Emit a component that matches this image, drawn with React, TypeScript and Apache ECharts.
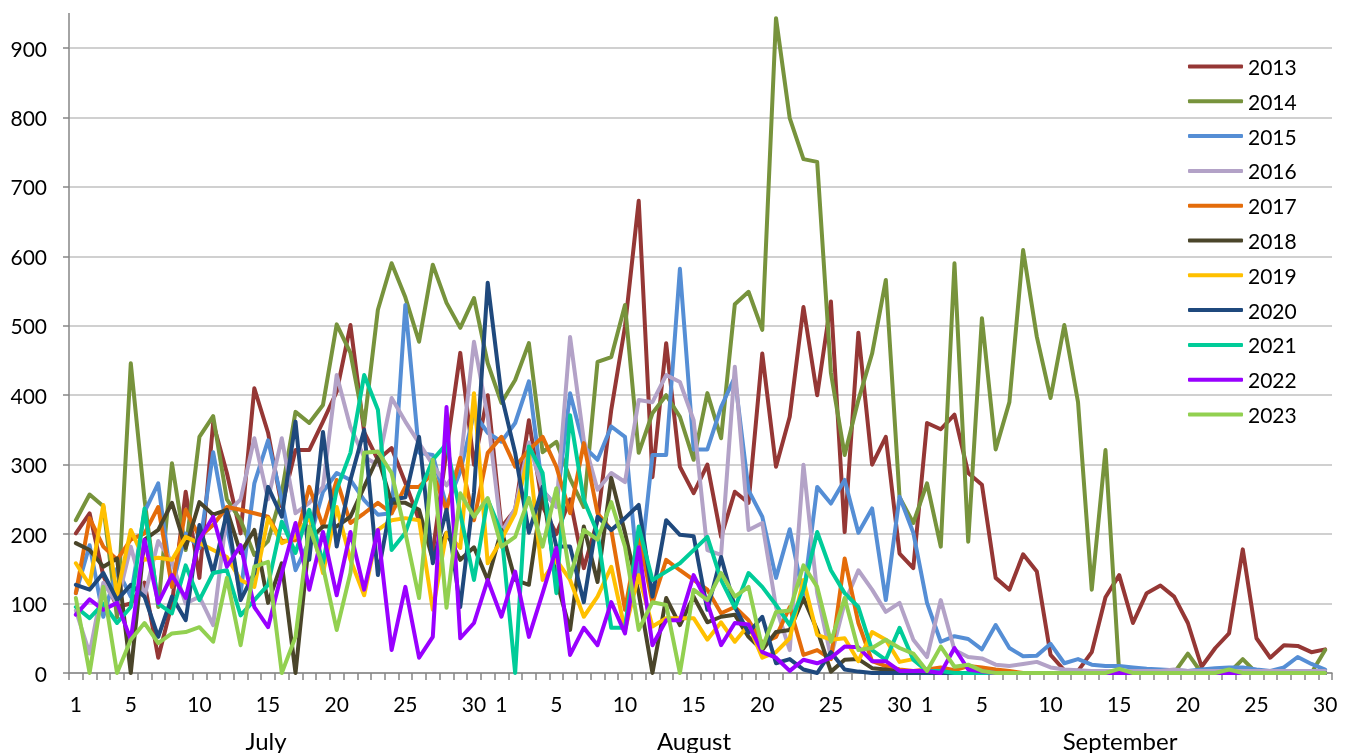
import React, { useEffect, useRef } from 'react';
import * as echarts from 'echarts';

const months = ['July', 'August', 'September'];
const daysInMonth = [31, 31, 30];
const shownDays = [1, 5, 10, 15, 20, 25, 30];
const yTicks = [0, 100, 200, 300, 400, 500, 600, 700, 800, 900];

const years = ['2013', '2014', '2015', '2016', '2017', '2018', '2019', '2020', '2021', '2022', '2023'];
const colors = ['#953735', '#77933C', '#558ED5', '#B3A2C7', '#E46C0A', '#4A452A', '#FFC000', '#1F497D', '#00CC99', '#9900FF', '#92D050'];

const s2013 = [
  201, 230, 140, 95, 100, 130, 22, 100, 261, 137,
  360, 288, 201, 410, 346, 240, 321, 321, 362, 405,
  501, 347, 307, 324, 274, 220, 175, 320, 461, 300,
  400, 210, 235, 364, 240, 200, 250, 151, 220, 379,
  499, 680, 282, 475, 297, 259, 300, 196, 261, 245,
  460, 297, 369, 527, 400, 535, 203, 490, 300, 340,
  172, 151, 360, 351, 372, 288, 271, 137, 120, 171,
  146, 26, 4, 3, 30, 109, 141, 72, 115, 126,
  110, 72, 9, 36, 57, 178, 50, 22, 40, 39,
  30, 34,
];
const s2014 = [
  220, 257, 240, 80, 446, 250, 95, 302, 177, 340,
  370, 250, 220, 170, 190, 260, 376, 360, 386, 502,
  461, 357, 523, 590, 541, 477, 588, 533, 497, 540,
  446, 389, 422, 475, 318, 333, 280, 239, 448, 455,
  530, 317, 374, 400, 369, 307, 403, 338, 531, 549,
  494, 943, 799, 740, 736, 432, 314, 393, 460, 566,
  253, 216, 273, 182, 590, 189, 511, 322, 390, 609,
  484, 396, 501, 390, 120, 321, 0, 0, 0, 0,
  0, 28, 0, 0, 0, 20, 0, 0, 0, 0,
  0, 33,
];
const s2015 = [
  115, 184, 81, 150, 110, 232, 273, 124, 201, 180,
  318, 210, 115, 273, 335, 249, 148, 190, 261, 288,
  278, 249, 228, 230, 530, 317, 314, 240, 290, 374,
  346, 333, 360, 420, 263, 240, 403, 326, 307, 355,
  340, 130, 314, 314, 582, 322, 322, 383, 426, 263,
  225, 137, 207, 110, 268, 244, 278, 202, 237, 105,
  254, 202, 101, 45, 53, 49, 34, 69, 36, 24,
  25, 42, 14, 20, 12, 10, 10, 8, 6, 5,
  4, 3, 5, 7, 8, 8, 5, 3, 8, 23,
  13, 5,
];
const s2016 = [
  90, 28, 130, 100, 182, 110, 190, 160, 100, 110,
  69, 230, 250, 338, 250, 338, 230, 245, 268, 429,
  354, 311, 300, 396, 362, 331, 300, 270, 300, 477,
  369, 202, 237, 332, 263, 239, 484, 335, 264, 288,
  275, 393, 390, 429, 419, 364, 177, 170, 441, 206,
  216, 95, 33, 300, 115, 23, 101, 148, 120, 88,
  101, 48, 23, 105, 33, 23, 21, 12, 10, 13,
  16, 8, 5, 4, 3, 3, 3, 3, 3, 3,
  5, 3, 3, 3, 3, 3, 3, 3, 3, 3,
  3, 3,
];
const s2017 = [
  115, 223, 182, 163, 192, 201, 239, 124, 235, 196,
  213, 239, 235, 230, 225, 190, 191, 268, 211, 278,
  216, 230, 245, 230, 268, 268, 288, 235, 310, 220,
  317, 340, 297, 321, 340, 297, 230, 331, 230, 206,
  91, 200, 101, 163, 148, 134, 120, 86, 95, 76,
  43, 52, 95, 26, 33, 20, 165, 72, 17, 10,
  5, 3, 5, 8, 4, 10, 8, 5, 3, 0,
  0, 0, 0, 0, 0, 0, 0, 0, 0, 0,
  0, 0, 0, 0, 0, 0, 0, 0, 0, 0,
  0, 0,
];
const s2018 = [
  187, 177, 153, 165, 0, 192, 206, 245, 180, 246,
  228, 235, 173, 206, 101, 158, 0, 192, 211, 211,
  225, 268, 311, 245, 245, 235, 163, 202, 163, 181,
  134, 206, 134, 127, 263, 134, 62, 211, 131, 281,
  202, 115, 0, 108, 69, 110, 73, 81, 84, 52,
  33, 59, 62, 108, 62, 2, 19, 20, 7, 5,
  2, 0, 0, 0, 0, 0, 0, 0, 0, 0,
  0, 0, 0, 0, 0, 0, 0, 0, 0, 0,
  0, 0, 0, 0, 0, 0, 0, 0, 0, 0,
  0, 0,
];
const s2019 = [
  158, 127, 242, 112, 206, 163, 166, 163, 196, 187,
  177, 167, 134, 124, 223, 187, 196, 225, 144, 239,
  163, 112, 206, 220, 223, 220, 91, 202, 180, 403,
  158, 192, 230, 317, 134, 163, 134, 81, 110, 153,
  62, 141, 67, 79, 79, 79, 48, 73, 45, 69,
  22, 30, 50, 134, 55, 48, 50, 17, 59, 48,
  16, 20, 3, 0, 0, 0, 0, 0, 0, 0,
  0, 0, 0, 0, 0, 0, 0, 0, 0, 0,
  0, 0, 0, 0, 0, 0, 0, 0, 0, 0,
  0, 0,
];
const s2020 = [
  127, 120, 144, 105, 127, 110, 52, 110, 76, 213,
  144, 232, 105, 144, 268, 225, 362, 163, 347, 182,
  278, 350, 141, 249, 253, 340, 158, 235, 95, 260,
  562, 400, 317, 202, 268, 182, 182, 102, 225, 206,
  223, 242, 110, 220, 199, 197, 91, 167, 95, 58,
  81, 14, 20, 5, 0, 30, 5, 2, 0, 0,
  0, 0, 0, 0, 0, 0, 0, 0, 0, 0,
  0, 0, 0, 0, 0, 0, 0, 0, 0, 0,
  0, 0, 0, 0, 0, 0, 0, 0, 0, 0,
  0, 0,
];
const s2021 = [
  95, 79, 100, 72, 95, 237, 100, 86, 155, 105,
  144, 148, 83, 105, 127, 218, 173, 235, 158, 264,
  317, 429, 379, 177, 202, 259, 307, 330, 230, 134,
  250, 202, 0, 326, 288, 115, 371, 249, 202, 65,
  65, 211, 134, 146, 158, 177, 196, 134, 94, 144,
  124, 98, 69, 120, 203, 148, 115, 95, 33, 19,
  65, 19, 3, 3, 0, 0, 0, 0, 0, 0,
  0, 0, 0, 0, 0, 0, 0, 0, 0, 0,
  0, 0, 0, 0, 0, 0, 0, 0, 0, 0,
  0, 0,
];
const s2022 = [
  84, 106, 91, 101, 48, 192, 101, 141, 108, 192,
  225, 153, 184, 95, 66, 144, 216, 120, 203, 112,
  203, 120, 206, 33, 124, 22, 52, 383, 50, 72,
  134, 81, 146, 52, 115, 180, 26, 65, 40, 102,
  57, 181, 40, 76, 76, 141, 101, 40, 72, 70,
  30, 22, 3, 19, 14, 22, 38, 37, 17, 17,
  3, 3, 3, 0, 36, 5, 2, 0, 0, 0,
  0, 0, 0, 0, 0, 0, 0, 0, 0, 0,
  0, 0, 0, 0, 0, 0, 0, 0, 0, 0,
  0, 0,
];
const s2023 = [
  108, 0, 124, 0, 48, 72, 43, 57, 59, 66,
  45, 137, 40, 153, 160, 0, 52, 211, 153, 62,
  144, 317, 319, 288, 202, 108, 307, 94, 259, 225,
  252, 182, 196, 252, 182, 266, 138, 206, 192, 246,
  182, 62, 102, 98, 0, 120, 105, 144, 110, 124,
  36, 88, 90, 155, 124, 45, 108, 33, 36, 48,
  36, 28, 3, 38, 9, 12, 3, 0, 0, 0,
  0, 0, 0, 0, 0, 0, 6, 0, 0, 0,
  0, 0, 0, 0, 5, 0, 0, 0, 0, 0,
  0, 0,
];

const seriesValues = [s2013, s2014, s2015, s2016, s2017, s2018, s2019, s2020, s2021, s2022, s2023];

const FONT = 'Lato, "Open Sans", sans-serif';

export default function App() {
  const ref = useRef<HTMLDivElement>(null);
  useEffect(() => {
    const chart = echarts.init(ref.current!, null, { renderer: 'svg' });
    const categories: string[] = [];
    months.forEach((m, mi) => {
      for (let d = 1; d <= daysInMonth[mi]; d++) categories.push(`${m}-${d}`);
    });
    const dayOf = (v: string) => Number(String(v).split('-')[1]);

    const option: any = {
      animation: false,
      color: colors,
      grid: { left: 69, right: 15, top: 48, bottom: 80, containLabel: false },
      legend: {
        orient: 'vertical',
        left: 1188,
        top: 56,
        padding: 0,
        icon: 'roundRect',
        itemWidth: 55,
        itemHeight: 4,
        itemGap: 13.8,
        data: years,
        textStyle: { fontFamily: FONT, fontSize: 21, color: '#000', lineHeight: 21 },
      },
      xAxis: {
        type: 'category',
        data: categories,
        boundaryGap: true,
        axisLine: { show: true, lineStyle: { color: '#868686', width: 1.5 } },
        axisTick: { show: true, interval: 0, length: 7, lineStyle: { color: '#868686', width: 1.5 } },
        axisLabel: {
          interval: (_i: number, v: string) => shownDays.includes(dayOf(v)),
          formatter: (v: string) => String(dayOf(v)),
          fontFamily: FONT,
          fontSize: 21,
          color: '#000',
          margin: 20,
        },
        splitLine: { show: false },
      },
      yAxis: {
        type: 'value',
        min: yTicks[0],
        max: yTicks[yTicks.length - 1],
        interval: yTicks[1] - yTicks[0],
        axisLine: { show: true, lineStyle: { color: '#868686', width: 1.5 } },
        axisTick: { show: true, length: 6, lineStyle: { color: '#868686', width: 1.5 } },
        axisLabel: { fontFamily: FONT, fontSize: 21, color: '#000', margin: 22 },
        splitLine: { show: true, lineStyle: { color: '#C0C0C0', width: 1.5 } },
      },
      series: years.map((y, i) => ({
        name: y,
        type: 'line',
        data: seriesValues[i],
        symbol: 'none',
        showSymbol: false,
        clip: false,
        lineStyle: { width: 4, color: colors[i], cap: 'round', join: 'round' },
        itemStyle: { color: colors[i] },
      })),
      graphic: [
        { type: 'line', shape: { x1: 69, y1: 13, x2: 69, y2: 48 }, style: { stroke: '#868686', lineWidth: 1.5 }, z: -1 },
        ...months.map((m, i) => ({
          type: 'text',
          x: [266, 694, 1120][i],
          y: 740,
          style: { text: m, font: `24px ${FONT}`, fill: '#000', align: 'center', verticalAlign: 'middle' },
        })),
      ],
    };
    chart.setOption(option);
    return () => chart.dispose();
  }, []);
  return <div ref={ref} style={{ position: 'fixed', left: 0, top: 0, width: 1347, height: 753 }} />;
}
